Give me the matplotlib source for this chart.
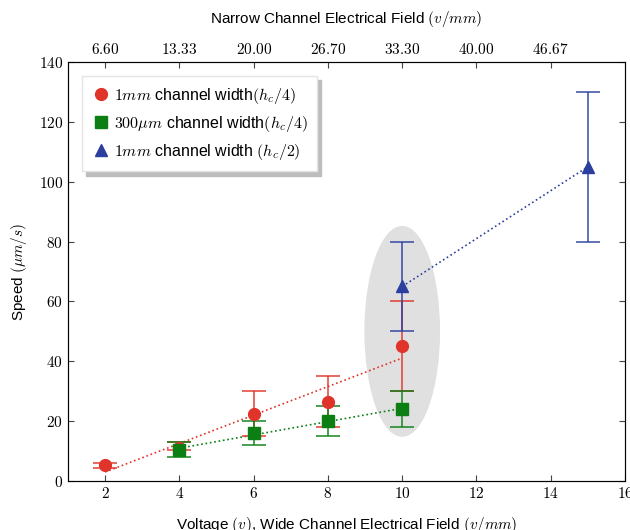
import numpy as np
import matplotlib.pyplot as plt
from matplotlib.patches import Ellipse

plt.rcParams['font.family'] = ['Liberation Sans', 'DejaVu Sans']
plt.rcParams['mathtext.fontset'] = 'cm'

# data
red_x = [2, 4, 6, 8, 10]
red_y = [5.2, 11, 22.5, 26.5, 45]
red_lo = [4.5, 10.5, 15, 18, 30]
red_hi = [6, 13, 30, 35, 60]

green_x = [4, 6, 8, 10]
green_y = [10.5, 16, 20, 24]
green_lo = [8, 12, 15, 18]
green_hi = [13, 20, 25, 30]

blue_x = [10, 15]
blue_y = [65, 105]
blue_lo = [50, 80]
blue_hi = [80, 130]

bottom_ticks = [2, 4, 6, 8, 10, 12, 14, 16]
top_ticks = [2, 4, 6, 8, 10, 12, 14]
top_labels = ['6.60', '13.33', '20.00', '26.70', '33.30', '40.00', '46.67']
y_ticks = [0, 20, 40, 60, 80, 100, 120, 140]

red = '#e0332a'
green = '#0b7f14'
blue = '#2c3f9e'

fig = plt.figure(figsize=(6.3, 5.3), dpi=100)
ax = fig.add_axes([68 / 630, 49 / 530, 557 / 630, 419 / 530])

# grey ellipse around the 10 V points
ax.add_patch(Ellipse((10, 50), 2, 70, color='#e0e0e0', zorder=0))

# linear fits as dotted lines
for xs, ys, c in [(red_x, red_y, red), (green_x, green_y, green), (blue_x, blue_y, blue)]:
    k, b = np.polyfit(xs, ys, 1)
    xx = np.array([xs[0], xs[-1]])
    ax.plot(xx, k * xx + b, ':', color=c, lw=1.2, zorder=1)

series = [
    (red_x, red_y, red_lo, red_hi, red, 'o', r'$1mm$ channel width$(h_c/4)$'),
    (green_x, green_y, green_lo, green_hi, green, 's', r'$300\mu m$ channel width$(h_c/4)$'),
    (blue_x, blue_y, blue_lo, blue_hi, blue, '^', r'$1mm$ channel width $(h_c/2)$'),
]
for xs, ys, lo, hi, c, m, lab in series:
    ys = np.array(ys)
    err = [ys - np.array(lo), np.array(hi) - ys]
    ax.errorbar(xs, ys, yerr=err, fmt='none', ecolor=c, elinewidth=1.3,
                capsize=8.5, capthick=1.3, alpha=0.8, zorder=2)
    ax.plot(xs, ys, m, color=c, ms=8.5, label=lab, zorder=3, linestyle='none')

ax.set_xlim(1, 16)
ax.set_ylim(0, 140)
ax.set_xticks(bottom_ticks)
ax.set_xticklabels([f'${t}$' for t in bottom_ticks])
ax.set_yticks(y_ticks)
ax.set_yticklabels([f'${t}$' for t in y_ticks])
ax.tick_params(direction='in', length=4, labelsize=11, right=True, color='#444444')
for s in ax.spines.values():
    s.set_color('#444444')

ax.set_xlabel(r'Voltage $(v)$, Wide Channel Electrical Field $(v/mm)$', fontsize=11, labelpad=10)
ax.set_ylabel(r'Speed $(\mu m/s)$', fontsize=11, labelpad=7)

top = ax.twiny()
top.set_xlim(ax.get_xlim())
top.set_xticks(top_ticks)
top.set_xticklabels([f'${t}$' for t in top_labels])
top.tick_params(direction='in', length=4, labelsize=11, color='#444444')
top.set_xlabel(r'Narrow Channel Electrical Field $(v/mm)$', fontsize=11, labelpad=14)

leg = ax.legend(loc='upper left', fontsize=11.5, fancybox=False,
                shadow={'color': '#bdbdbd', 'alpha': 1.0, 'ox': 3, 'oy': -3},
                handletextpad=0.2, borderpad=0.6, labelspacing=0.5,
                bbox_to_anchor=(0.01, 0.985), handlelength=1.2)
leg.get_frame().set_edgecolor('#e4e4e4')

fig.savefig('out.png', dpi=100)
